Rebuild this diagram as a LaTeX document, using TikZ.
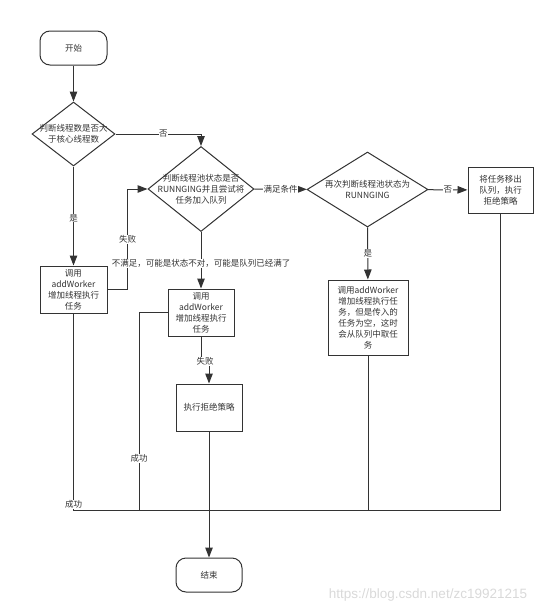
\documentclass[tikz,border=0pt]{standalone}
\usepackage{fontspec}
\setmainfont{Noto Sans CJK SC}
\newfontfamily\wmfont{Liberation Sans}
\usetikzlibrary{shapes.geometric,arrows.meta}
\tikzset{
  box/.style={draw, line width=1pt, align=center, inner sep=1pt},
  dia/.style={draw, diamond, line width=1pt, inner sep=0pt},
  lbl/.style={fill=white, inner sep=0.5pt},
  arr/.style={-{Triangle[length=10pt,width=7.5pt]}},
}
\begin{document}
\begin{tikzpicture}[x=1pt,y=-1pt,line width=1pt,color=black!80,font=\fontsize{8.5}{11}\selectfont]
    \useasboundingbox (0,0) rectangle (554,613);

    \node[box, rounded corners=10pt, minimum width=67pt, minimum height=34pt] (s) at (73.5,48) {开始};

    \node[dia, minimum width=83pt, minimum height=64pt] (d1) at (73.5,134) {};
    \node[align=center] (d1t) at (d1) {判断线程数是否大\\于核心线程数};

    \node[dia, minimum width=106pt, minimum height=85pt] (d2) at (201,189) {};
    \node[align=center] (d2t) at (d2) {判断线程池状态是否\\RUNNGING并且尝试将\\任务加入队列};

    \node[dia, minimum width=121pt, minimum height=75pt] (d3) at (367.5,189.5) {};
    \node[align=center] (d3t) at (d3) {再次判断线程池状态为\\RUNNGING};

    \node[box, minimum width=65pt, minimum height=46pt] (b5) at (500.5,190) {将任务移出\\队列，执行\\拒绝策略};
    \node[box, minimum width=67pt, minimum height=47pt] (b1) at (73.5,289.5) {调用\\addWorker\\增加线程执行\\任务};
    \node[box, minimum width=66pt, minimum height=47pt] (b2) at (201,312.5) {调用\\addWorker\\增加线程执行\\任务};
    \node[box, minimum width=80pt, minimum height=75pt] (b4) at (368,317.5) {调用addWorker\\增加线程执行任\\务，但是传入的\\任务为空，这时\\会从队列中取任\\务};
    \node[box, minimum width=66pt, minimum height=47pt] (b3) at (209,407.5) {执行拒绝策略};
    \node[box, rounded corners=10pt, minimum width=66pt, minimum height=34pt] (e) at (209,575) {结束};

    \coordinate (m1) at (73.5,510);
    \coordinate (m2) at (139,510);

    \draw[arr] (s) -- (d1);
    \draw[arr] (d1.east) -| node[lbl, pos=0.28]{否} (d2.north);
    \draw[arr] (d1) -- node[lbl, pos=0.52]{是} (b1);
    \draw[arr] (b1.east) -- ++(20,0) |- node[lbl, pos=0.25]{失败} (d2.west);
    \draw[arr] (d2) -- node[lbl, pos=0.55]{不满足，可能是状态不对，可能是队列已经满了} (b2);
    \draw[arr] (d2) -- node[lbl]{满足条件} (d3);
    \draw[arr] (d3) -- node[lbl]{否} (b5);
    \draw[arr] (d3) -- node[lbl]{是} (b4);
    \draw[arr] (b2.south) -- ++(0,25) -| node[lbl, pos=0.25]{失败} (b3.north);
    \draw[arr] (b3) -- (e);

    \draw (b1) -- node[lbl, pos=0.97]{成功} (m1) -- (b5.south |- m1) -- (b5);
    \draw (b2.west) -| node[lbl, pos=0.87]{成功} (m2);
    \draw (b4) -- (b4.south |- m1);

    \node[text=black!15, font=\wmfont\fontsize{13.5}{15}\selectfont] (wm) at (428,595) {https://blog.csdn.net/zc19921215};
\end{tikzpicture}
\end{document}
